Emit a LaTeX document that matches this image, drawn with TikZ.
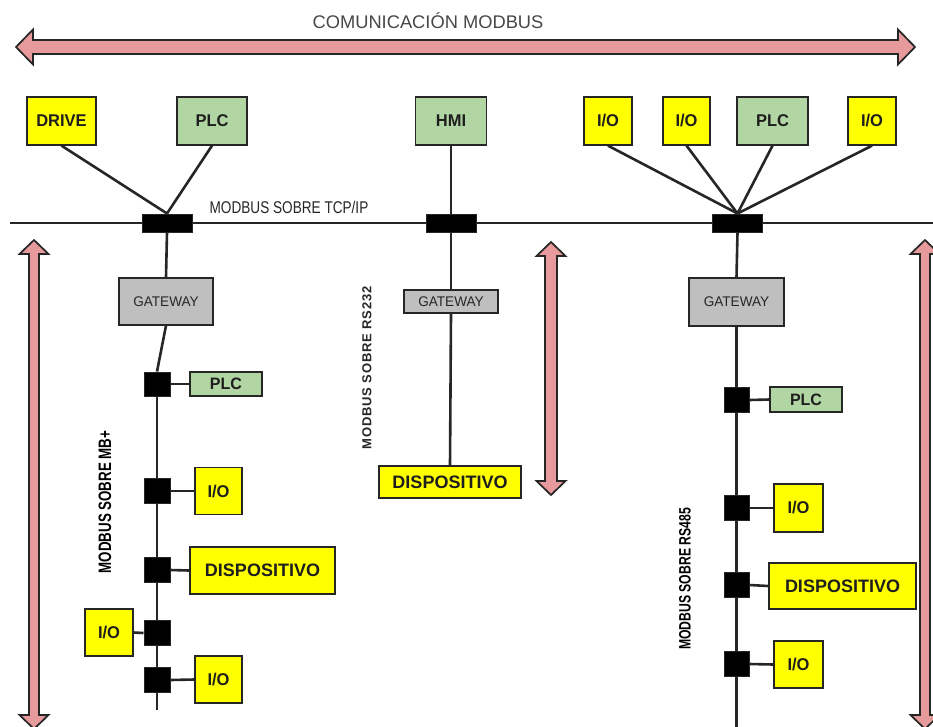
\documentclass[tikz,border=0pt]{standalone}
\usepackage{fontspec}
\setmainfont{Liberation Sans}
\newfontfamily\cf[FakeStretch=0.97]{Liberation Sans}
\newfontfamily\tcpf[FakeStretch=0.8]{Liberation Sans}
\newfontfamily\ccf[FakeStretch=0.74]{Liberation Sans}
\newfontfamily\sprf[LetterSpace=6]{Liberation Sans}
\definecolor{yel}{HTML}{FFFF00}
\definecolor{grn}{HTML}{B2D6A3}
\definecolor{gwg}{HTML}{BFBFBF}
\definecolor{pinkar}{HTML}{E79A9C}
\definecolor{dk}{HTML}{262626}
\definecolor{txt}{HTML}{1E1E1E}
\newcommand{\VArrow}[6]{%
  \draw[pinkarrow] (#1,#2) -- (#1+#5,#2+#6) -- (#1+#4,#2+#6) -- (#1+#4,#3-#6) -- (#1+#5,#3-#6) -- (#1,#3)
   -- (#1-#5,#3-#6) -- (#1-#4,#3-#6) -- (#1-#4,#2+#6) -- (#1-#5,#2+#6) -- cycle;}
\newcommand{\HArrow}[6]{%
  \draw[pinkarrow] (#2,#1) -- (#2+#6,#1-#5) -- (#2+#6,#1-#4) -- (#3-#6,#1-#4) -- (#3-#6,#1-#5) -- (#3,#1)
   -- (#3-#6,#1+#5) -- (#3-#6,#1+#4) -- (#2+#6,#1+#4) -- (#2+#6,#1+#5) -- cycle;}
\begin{document}
\begin{tikzpicture}[x=1pt,y=-1pt,
  box/.style={draw=dk,line width=1.3pt,inner sep=0pt,text=txt,font=\cf\bfseries\fontsize{17}{19}\selectfont},
  ybox/.style={box,fill=yel},
  gbox/.style={box,fill=grn},
  dbox/.style={ybox,font=\bfseries\fontsize{18}{20}\selectfont},
  gwbox/.style={box,fill=gwg,font=\cf\fontsize{14}{16}\selectfont,text=dk},
  sw/.style={draw=dk,fill=black,line width=1pt,inner sep=0pt},
  wire/.style={draw=dk,line width=2.6pt},
  pinkarrow/.style={fill=pinkar,draw=dk,line width=1.7pt,line join=miter},
  lbl/.style={text=dk,inner sep=0pt}]
\useasboundingbox (0,0) rectangle (933,726);

% title and top arrow
\node[lbl,font=\fontsize{18.3}{20}\selectfont,text=dk!85] (title) at (428,21) {COMUNICACIÓN MODBUS};
\HArrow{47}{16}{915}{7}{17.5}{17}

% side arrows
\VArrow{34}{240}{729}{5}{14.5}{14}
\VArrow{551}{242}{495}{6}{14.5}{14}
\VArrow{925}{240}{729}{5}{14.5}{14}

% TCP/IP bus
\coordinate (busL) at (10,223);
\coordinate (busR) at (933,223);
\draw[wire] (busL) -- (busR);
\node[lbl,font=\tcpf\fontsize{17}{19}\selectfont] (tcp) at (289,207) {MODBUS SOBRE TCP/IP};

% top devices
\node[ybox,minimum width=69pt,minimum height=48pt] (drive) at (61.5,121) {DRIVE};
\node[gbox,minimum width=70pt,minimum height=48pt] (plcA) at (212,121) {PLC};
\node[gbox,minimum width=71pt,minimum height=48pt] (hmi) at (451,121) {HMI};
\node[ybox,minimum width=48pt,minimum height=48pt] (io1) at (608,121) {I/O};
\node[ybox,minimum width=47pt,minimum height=48pt] (io2) at (686.5,121) {I/O};
\node[gbox,minimum width=71pt,minimum height=48pt] (plcB) at (772.5,121) {PLC};
\node[ybox,minimum width=48pt,minimum height=48pt] (io3) at (872,121) {I/O};

% bus switches
\node[sw,minimum width=50pt,minimum height=18pt] (swA) at (167,223) {};
\node[sw,minimum width=50pt,minimum height=18pt] (swB) at (451,223) {};
\node[sw,minimum width=50pt,minimum height=18pt] (swC) at (737.5,223) {};

\draw[wire] (drive.south) -- (swA.north);
\draw[wire] (plcA.south) -- (swA.north);
\draw[wire] (hmi.south) -- (swB.north);
\draw[wire] (io1.south) -- (swC.north);
\draw[wire] (io2.south) -- (swC.north);
\draw[wire] (plcB.south) -- (swC.north);
\draw[wire] (io3.south) -- (swC.north);

% gateways
\node[gwbox,minimum width=94pt,minimum height=47pt] (gwA) at (166,301.5) {GATEWAY};
\node[gwbox,minimum width=94pt,minimum height=23pt] (gwB) at (451,301.5) {GATEWAY};
\node[gwbox,minimum width=95pt,minimum height=48pt] (gwC) at (736.5,302) {GATEWAY};

\draw[wire] (swA.south) -- (gwA.north);
\draw[wire] (swB.south) -- (gwB.north);
\draw[wire] (swC.south) -- (gwC.north);

% ---- left column (MB+)
\coordinate (endA) at (157,710);
\node[sw,minimum width=26pt,minimum height=24pt] (sA1) at (157,384) {};
\node[sw,minimum width=26pt,minimum height=25pt] (sA2) at (157,491) {};
\node[sw,minimum width=26pt,minimum height=25pt] (sA3) at (157,570) {};
\node[sw,minimum width=26pt,minimum height=25pt] (sA4) at (157,633) {};
\node[sw,minimum width=26pt,minimum height=25pt] (sA5) at (157,680) {};
\draw[wire] (gwA.south) -- (sA1.north);
\draw[wire] (sA1.south) -- (sA2.north);
\draw[wire] (sA2.south) -- (sA3.north);
\draw[wire] (sA3.south) -- (sA4.north);
\draw[wire] (sA4.south) -- (sA5.north);
\draw[wire] (sA5.south) -- (endA);

\node[gbox,minimum width=72pt,minimum height=24pt,font=\cf\bfseries\fontsize{16.5}{18}\selectfont] (plcA2) at (226,384) {PLC};
\node[ybox,minimum width=47pt,minimum height=47pt] (ioA1) at (218.5,491) {I/O};
\node[dbox,minimum width=145pt,minimum height=47pt] (dispA) at (262.5,570.5) {DISPOSITIVO};
\node[ybox,minimum width=48pt,minimum height=47pt] (ioA2) at (109,632.5) {I/O};
\node[ybox,minimum width=47pt,minimum height=47pt] (ioA3) at (218.5,679.5) {I/O};
\draw[wire] (sA1.east) -- (plcA2.west);
\draw[wire] (sA2.east) -- (ioA1.west);
\draw[wire] (sA3.east) -- (dispA.west);
\draw[wire] (sA4.west) -- (ioA2.east);
\draw[wire] (sA5.east) -- (ioA3.west);
\node[lbl,rotate=90,font=\ccf\bfseries\fontsize{18}{20}\selectfont,text=black] (mbplus) at (105,502) {MODBUS SOBRE MB+};

% ---- middle (RS232)
\node[dbox,minimum width=142pt,minimum height=32pt] (dispB) at (450,482) {DISPOSITIVO};
\draw[wire] (gwB.south) -- (dispB.north);
\node[lbl,rotate=90,font=\sprf\bfseries\fontsize{13}{15}\selectfont] (rs232) at (367,368) {MODBUS SOBRE RS232};

% ---- right column (RS485)
\coordinate (endC) at (736.5,728);
\node[sw,minimum width=25pt,minimum height=25pt] (sC1) at (736.5,400) {};
\node[sw,minimum width=25pt,minimum height=25pt] (sC2) at (736.5,508) {};
\node[sw,minimum width=25pt,minimum height=25pt] (sC3) at (736.5,585) {};
\node[sw,minimum width=25pt,minimum height=25pt] (sC4) at (736.5,664) {};
\draw[wire] (gwC.south) -- (sC1.north);
\draw[wire] (sC1.south) -- (sC2.north);
\draw[wire] (sC2.south) -- (sC3.north);
\draw[wire] (sC3.south) -- (sC4.north);
\draw[wire] (sC4.south) -- (endC);

\node[gbox,minimum width=72pt,minimum height=25pt,font=\cf\bfseries\fontsize{16.5}{18}\selectfont] (plcC2) at (806,399.5) {PLC};
\node[ybox,minimum width=49pt,minimum height=48pt] (ioC1) at (798.5,508) {I/O};
\node[dbox,minimum width=147pt,minimum height=46pt] (dispC) at (842.5,586) {DISPOSITIVO};
\node[ybox,minimum width=49pt,minimum height=47pt] (ioC2) at (798.5,664.5) {I/O};
\draw[wire] (sC1.east) -- (plcC2.west);
\draw[wire] (sC2.east) -- (ioC1.west);
\draw[wire] (sC3.east) -- (dispC.west);
\draw[wire] (sC4.east) -- (ioC2.west);
\node[lbl,rotate=90,font=\ccf\bfseries\fontsize{16.5}{18}\selectfont,text=black] (rs485) at (685,579) {MODBUS SOBRE RS485};
\end{tikzpicture}
\end{document}
